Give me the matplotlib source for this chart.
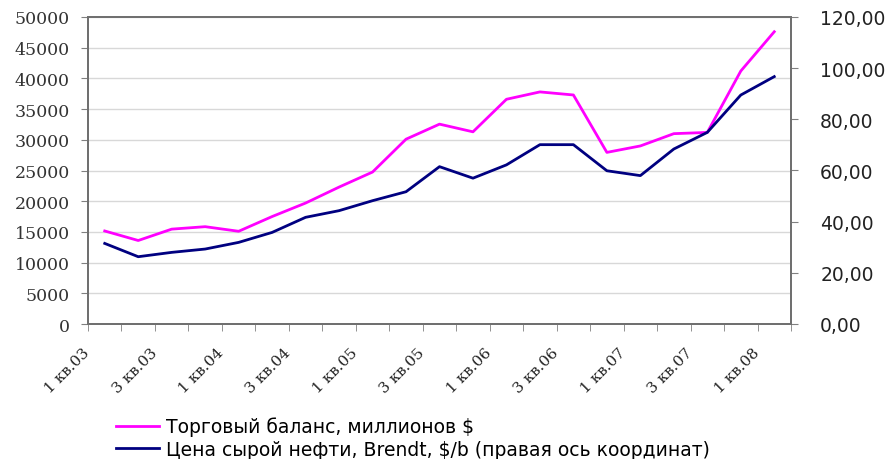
import numpy as np
import matplotlib
matplotlib.use('Agg')
import matplotlib.pyplot as plt
import matplotlib.transforms as mtransforms

# quarters 1 кв.03 .. 1 кв.08
quarters = ['1 кв.03', '2 кв.03', '3 кв.03', '4 кв.03',
            '1 кв.04', '2 кв.04', '3 кв.04', '4 кв.04',
            '1 кв.05', '2 кв.05', '3 кв.05', '4 кв.05',
            '1 кв.06', '2 кв.06', '3 кв.06', '4 кв.06',
            '1 кв.07', '2 кв.07', '3 кв.07', '4 кв.07',
            '1 кв.08']
trade_balance = [15150, 13600, 15450, 15850, 15100, 17500, 19700, 22300, 24750, 30100,
                 32550, 31300, 36600, 37800, 37300, 27950, 29000, 31000, 31200, 41200, 47600]
brent = [31.5, 26.3, 28.0, 29.3, 31.9, 35.8, 41.7, 44.3, 48.2, 51.7,
         61.5, 57.0, 62.2, 70.1, 70.1, 59.9, 58.0, 68.4, 74.9, 89.5, 96.7]

label_trade = 'Торговый баланс, миллионов $'
label_brent = 'Цена сырой нефти, Brendt, $/b (правая ось координат)'

fig = plt.figure(figsize=(8.86, 4.6), dpi=100)
ax = fig.add_axes([88/886, 1 - 325/460, (791 - 88)/886, (325 - 18)/460])
ax2 = ax.twinx()

x = np.arange(len(quarters))
l1, = ax.plot(x, trade_balance, color='#ff00ff', lw=2.0, zorder=3)
l2, = ax2.plot(x, brent, color='#000080', lw=2.0, zorder=3)

ax.set_xlim(-0.5, len(quarters) - 0.5)
ax.set_ylim(0, 50000)
ax2.set_ylim(0, 120)
ax.set_yticks(np.arange(0, 50001, 5000))
ax2.set_yticks(np.arange(0, 121, 20))
ax2.set_yticklabels([('%.2f' % v).replace('.', ',') for v in np.arange(0, 121, 20)])

ax.yaxis.grid(True, color='#d8d8d8', lw=1.0)
ax.set_axisbelow(True)

for a in (ax, ax2):
    for s in a.spines.values():
        s.set_color('#707070')
        s.set_linewidth(1.4)

ax.set_xticks(x[::2])
ax.set_xticklabels(quarters[::2], rotation=45, ha='right', va='top',
                   family='DejaVu Serif', fontsize=11, color='#222222')
ax.set_xticks(np.arange(-0.5, len(quarters), 1), minor=True)
ax.tick_params(axis='x', which='major', length=0, pad=15)
ax.tick_params(axis='x', which='minor', length=5, color='#808080', direction='out')
offset = mtransforms.ScaledTranslation(-12/100, 0, fig.dpi_scale_trans)
for lab in ax.get_xticklabels():
    lab.set_transform(lab.get_transform() + offset)

ax.tick_params(axis='y', length=5, color='#808080', pad=8, labelsize=12.5, labelcolor='#333333')
for lab in ax.get_yticklabels():
    lab.set_family('DejaVu Serif')
ax2.tick_params(axis='y', length=5, color='#808080', pad=16, labelsize=13.5, labelcolor='#222222')

fig.legend([l1, l2], [label_trade, label_brent], loc='upper left',
           bbox_to_anchor=(108/886, 1 - 410/460), frameon=False,
           prop={'family': 'DejaVu Sans', 'size': 13.5}, handlelength=2.3,
           handletextpad=0.4, labelspacing=0.2, borderaxespad=0)

fig.savefig('out.png', dpi=100)
